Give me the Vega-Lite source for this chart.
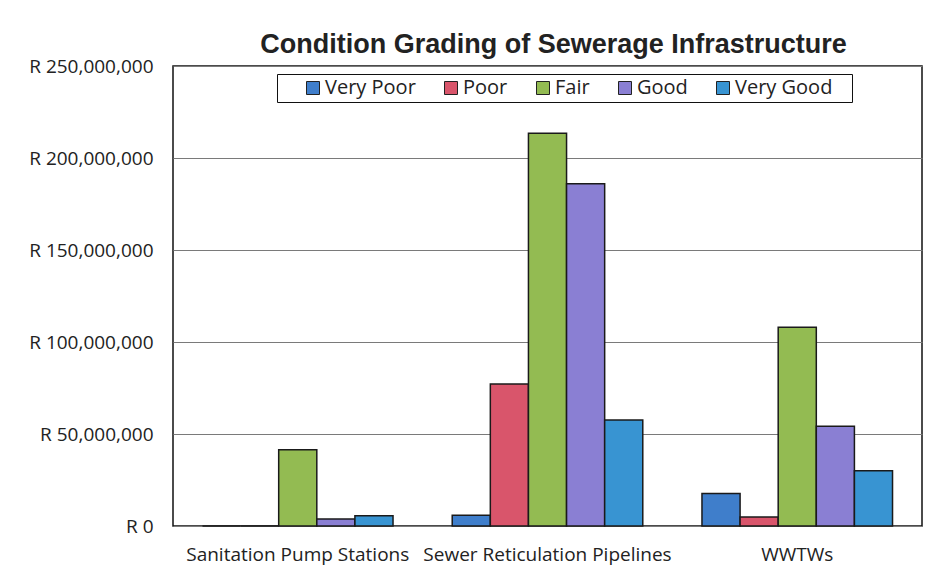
{
  "$schema": "https://vega.github.io/schema/vega-lite/v6.json",
  "width": 749,
  "height": 460,
  "autosize": {"type": "none"},
  "padding": {"left": 173, "top": 66, "right": 8, "bottom": 59},
  "background": "white",
  "title": {
    "text": "Condition Grading of Sewerage Infrastructure",
    "font": "Liberation Sans",
    "fontSize": 27,
    "fontWeight": "bold",
    "color": "#222222",
    "anchor": "middle",
    "offset": -2,
    "dx": 6
  },
  "config": {
    "view": {"stroke": "#111111", "strokeWidth": 1.5},
    "font": "Open Sans"
  },
  "data": {
    "values": [
      {"category": "Sanitation Pump Stations", "grade": "Very Poor", "value": 0},
      {"category": "Sanitation Pump Stations", "grade": "Poor", "value": 0},
      {"category": "Sanitation Pump Stations", "grade": "Fair", "value": 41500000},
      {"category": "Sanitation Pump Stations", "grade": "Good", "value": 3800000},
      {"category": "Sanitation Pump Stations", "grade": "Very Good", "value": 5600000},
      {"category": "Sewer Reticulation Pipelines", "grade": "Very Poor", "value": 5800000},
      {"category": "Sewer Reticulation Pipelines", "grade": "Poor", "value": 77200000},
      {"category": "Sewer Reticulation Pipelines", "grade": "Fair", "value": 213400000},
      {"category": "Sewer Reticulation Pipelines", "grade": "Good", "value": 186000000},
      {"category": "Sewer Reticulation Pipelines", "grade": "Very Good", "value": 57600000},
      {"category": "WWTWs", "grade": "Very Poor", "value": 17600000},
      {"category": "WWTWs", "grade": "Poor", "value": 4900000},
      {"category": "WWTWs", "grade": "Fair", "value": 108000000},
      {"category": "WWTWs", "grade": "Good", "value": 54200000},
      {"category": "WWTWs", "grade": "Very Good", "value": 30000000}
    ]
  },
  "mark": {"type": "bar", "stroke": "#1a1a1a", "strokeWidth": 1.5},
  "encoding": {
    "x": {
      "field": "category",
      "type": "nominal",
      "sort": ["Sanitation Pump Stations", "Sewer Reticulation Pipelines", "WWTWs"],
      "scale": {"paddingInner": 0.237, "paddingOuter": 0.118},
      "axis": {
        "title": null,
        "labelAngle": 0,
        "ticks": false,
        "domain": false,
        "labelFont": "Open Sans",
        "labelFontSize": 19,
        "labelColor": "#222222",
        "labelPadding": 19,
        "labelLimit": 0
      }
    },
    "xOffset": {
      "field": "grade",
      "type": "nominal",
      "sort": ["Very Poor", "Poor", "Fair", "Good", "Very Good"],
      "scale": {"paddingInner": 0, "paddingOuter": 0}
    },
    "y": {
      "field": "value",
      "type": "quantitative",
      "scale": {"domain": [0, 250000000], "nice": false},
      "axis": {
        "title": null,
        "values": [0, 50000000, 100000000, 150000000, 200000000, 250000000],
        "labelExpr": "'R ' + format(datum.value, ',')",
        "grid": true,
        "gridColor": "#7a7a7a",
        "gridWidth": 1,
        "ticks": false,
        "domain": false,
        "labelPadding": 20,
        "labelFont": "Open Sans",
        "labelFontSize": 19,
        "labelColor": "#222222"
      }
    },
    "color": {
      "field": "grade",
      "type": "nominal",
      "sort": ["Very Poor", "Poor", "Fair", "Good", "Very Good"],
      "scale": {
        "domain": ["Very Poor", "Poor", "Fair", "Good", "Very Good"],
        "range": ["#3f7ecb", "#d9556b", "#93bb52", "#8a7fd3", "#3894d2"]
      },
      "legend": {
        "orient": "none",
        "legendX": 104,
        "legendY": 8,
        "direction": "horizontal",
        "title": "\u00a0",
        "titleOrient": "left",
        "titleFontSize": 20,
        "titlePadding": 22,
        "strokeColor": "#111111",
        "fillColor": "white",
        "padding": 4,
        "symbolType": "square",
        "symbolSize": 169,
        "symbolStrokeColor": "#222222",
        "symbolStrokeWidth": 1,
        "labelFont": "Open Sans",
        "labelFontSize": 20,
        "labelColor": "#222222",
        "labelExpr": "datum.label == 'Very Good' ? datum.label + '\u2800' : datum.label",
        "columnPadding": 25,
        "labelOffset": 2
      }
    }
  }
}
